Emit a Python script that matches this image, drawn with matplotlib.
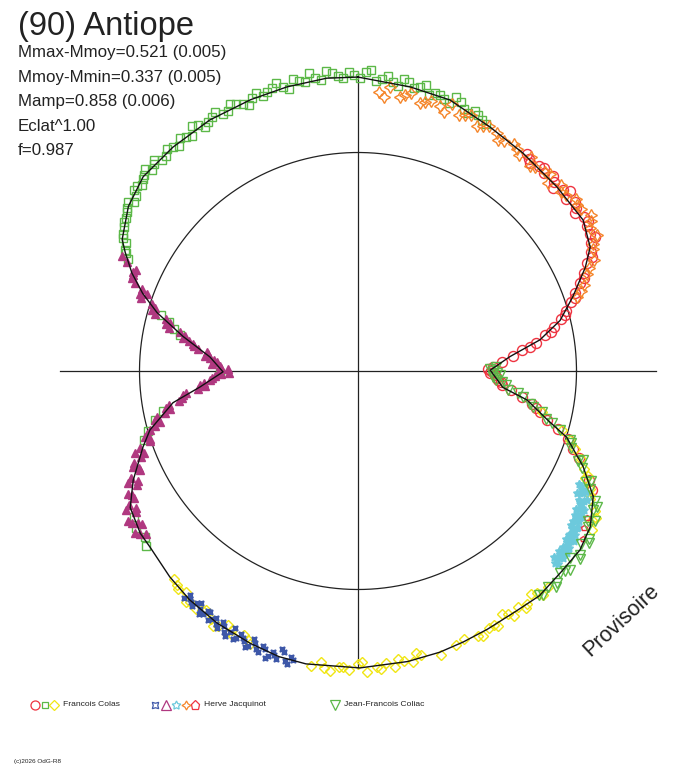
import numpy as np
import matplotlib
matplotlib.use("Agg")
import matplotlib.pyplot as plt

# courbe de lumiere (90) Antiope, en coordonnees polaires : phase -> magnitude relative
fit_phase = [0.000, 0.029, 0.052, 0.079, 0.103, 0.131, 0.156, 0.172, 0.182, 0.197,
             0.211, 0.223, 0.235, 0.249, 0.268, 0.277, 0.290, 0.299, 0.314, 0.328,
             0.344, 0.358, 0.373, 0.392, 0.408, 0.426, 0.441, 0.455, 0.473, 0.499,
             0.528, 0.543, 0.560, 0.581, 0.601, 0.618, 0.638, 0.648, 0.664, 0.678,
             0.696, 0.706, 0.723, 0.734, 0.749, 0.765, 0.781, 0.795, 0.805, 0.815,
             0.825, 0.831, 0.849, 0.867, 0.890, 0.915, 0.940, 0.961, 0.983]
fit_mag = [-0.322, -0.303, -0.293, -0.259, -0.243, -0.234, -0.234, -0.202, -0.145, -0.043,
           0.052, 0.183, 0.390, 0.545, 0.439, 0.263, 0.122, -0.003, -0.123, -0.216,
           -0.268, -0.289, -0.291, -0.303, -0.298, -0.303, -0.310, -0.318, -0.325, -0.333,
           -0.335, -0.331, -0.318, -0.303, -0.285, -0.265, -0.240, -0.236, -0.212, -0.146,
           -0.046, 0.011, 0.165, 0.347, 0.523, 0.418, 0.221, 0.047, -0.050, -0.130,
           -0.194, -0.230, -0.279, -0.306, -0.309, -0.313, -0.314, -0.318, -0.324]

# Francois Colas
colas_o_phase = [0.105, 0.110, 0.115, 0.120, 0.125, 0.130, 0.135, 0.140, 0.145, 0.150,
                 0.155, 0.160, 0.165, 0.170, 0.175, 0.180, 0.185, 0.190, 0.195, 0.200,
                 0.205, 0.210, 0.215, 0.220, 0.225, 0.230, 0.240, 0.245, 0.250, 0.255,
                 0.260, 0.265, 0.270, 0.280, 0.285, 0.290, 0.295, 0.300, 0.305, 0.310,
                 0.320, 0.325,
                 0.108, 0.118, 0.128, 0.138, 0.148, 0.158, 0.168, 0.178, 0.188, 0.198,
                 0.208, 0.218, 0.228, 0.235, 0.248, 0.252, 0.258, 0.262, 0.275, 0.283]
colas_o_mag = [-0.25, -0.23, -0.245, -0.235, -0.25, -0.22, -0.245, -0.23, -0.25, -0.225,
               -0.245, -0.235, -0.23, -0.215, -0.195, -0.16, -0.13, -0.095, -0.06, -0.025,
               0.01, 0.045, 0.09, 0.15, 0.21, 0.30, 0.45, 0.52, 0.54, 0.51,
               0.48, 0.45, 0.38, 0.23, 0.17, 0.12, 0.05, -0.01, -0.05, -0.09,
               -0.17, -0.20,
               -0.24, -0.25, -0.24, -0.26, -0.24, -0.25, -0.24, -0.19, -0.12, -0.05,
               0.02, 0.11, 0.25, 0.37, 0.56, 0.55, 0.49, 0.46, 0.30, 0.20]

colas_s_phase = [0.822, 0.826, 0.830, 0.834, 0.838, 0.843, 0.848, 0.853, 0.858, 0.863,
                 0.868, 0.873, 0.878, 0.884, 0.890, 0.896, 0.902, 0.908, 0.914, 0.920,
                 0.926, 0.932, 0.938, 0.944, 0.950, 0.956, 0.962, 0.968, 0.974, 0.980,
                 0.986, 0.992, 0.998, 0.004, 0.010, 0.016, 0.022, 0.028, 0.034, 0.040,
                 0.046, 0.052, 0.058, 0.064, 0.070, 0.076,
                 0.825, 0.832, 0.840, 0.846, 0.851, 0.856, 0.861, 0.866, 0.871, 0.876,
                 0.881, 0.887, 0.893, 0.899, 0.905, 0.911, 0.917, 0.923, 0.929, 0.935,
                 0.941, 0.947, 0.953, 0.959, 0.965, 0.971, 0.977, 0.983, 0.989, 0.995,
                 0.001, 0.007, 0.013, 0.019, 0.025, 0.031, 0.037, 0.043, 0.049, 0.055,
                 0.061, 0.067, 0.073,
                 0.640, 0.645, 0.652, 0.658, 0.700, 0.706, 0.712, 0.718,
                 0.748, 0.782, 0.786, 0.790, 0.794]
colas_s_mag = [-0.17, -0.20, -0.21, -0.24, -0.25, -0.26, -0.28, -0.27, -0.30, -0.29,
               -0.31, -0.30, -0.32, -0.30, -0.31, -0.32, -0.30, -0.32, -0.31, -0.33,
               -0.31, -0.32, -0.30, -0.33, -0.32, -0.34, -0.31, -0.33, -0.35, -0.32,
               -0.34, -0.32, -0.33, -0.34, -0.31, -0.33, -0.30, -0.32, -0.31, -0.29,
               -0.30, -0.28, -0.30, -0.27, -0.28, -0.26,
               -0.19, -0.23, -0.26, -0.27, -0.29, -0.28, -0.30, -0.30, -0.32, -0.31,
               -0.30, -0.32, -0.30, -0.31, -0.33, -0.30, -0.32, -0.31, -0.33, -0.31,
               -0.32, -0.31, -0.33, -0.32, -0.34, -0.32, -0.33, -0.35, -0.33, -0.34,
               -0.32, -0.35, -0.32, -0.31, -0.33, -0.30, -0.32, -0.30, -0.29, -0.31,
               -0.28, -0.29, -0.27,
               -0.25, -0.23, -0.24, -0.22, -0.03, 0.00, 0.05, 0.10,
               0.50, 0.20, 0.16, 0.12, 0.07]

colas_d_phase = [0.285, 0.295, 0.305, 0.310, 0.315, 0.320, 0.325, 0.330, 0.335, 0.340,
                 0.345, 0.385, 0.390, 0.395, 0.400, 0.405, 0.410, 0.415, 0.420, 0.425,
                 0.430, 0.440, 0.445, 0.455, 0.465, 0.470, 0.475, 0.480, 0.485, 0.490,
                 0.495, 0.500, 0.505, 0.510, 0.515, 0.520, 0.525, 0.560, 0.565, 0.570,
                 0.575, 0.580, 0.585, 0.590, 0.595, 0.600, 0.605, 0.610, 0.615,
                 0.468, 0.478, 0.488, 0.498, 0.508, 0.518, 0.392, 0.402, 0.412, 0.422,
                 0.432, 0.562, 0.572, 0.582, 0.592, 0.602, 0.612, 0.300, 0.318, 0.328,
                 0.338]
colas_d_mag = [0.16, 0.03, -0.06, -0.10, -0.13, -0.15, -0.19, -0.21, -0.25, -0.26,
               -0.28, -0.30, -0.31, -0.28, -0.30, -0.29, -0.31, -0.28, -0.31, -0.30,
               -0.32, -0.30, -0.31, -0.33, -0.31, -0.33, -0.32, -0.34, -0.32, -0.33,
               -0.35, -0.32, -0.34, -0.33, -0.35, -0.32, -0.34, -0.32, -0.30, -0.32,
               -0.29, -0.31, -0.30, -0.28, -0.30, -0.29, -0.27, -0.28, -0.26,
               -0.30, -0.31, -0.34, -0.31, -0.33, -0.34, -0.29, -0.31, -0.29, -0.30,
               -0.31, -0.31, -0.30, -0.32, -0.29, -0.30, -0.27, -0.02, -0.16, -0.20,
               -0.27]

# Herve Jacquinot
jacq_x_phase = [0.535, 0.538, 0.541, 0.544, 0.547, 0.550, 0.553, 0.556, 0.559, 0.562,
                0.565, 0.568, 0.571, 0.574, 0.577, 0.580, 0.583, 0.586, 0.589, 0.592,
                0.595, 0.598, 0.601, 0.604,
                0.5365, 0.5395, 0.5425, 0.5455, 0.5485, 0.5515, 0.5545, 0.5575, 0.5605,
                0.5635, 0.5665, 0.5695, 0.5725, 0.5755, 0.5785, 0.5815, 0.5845, 0.5875,
                0.5905, 0.5935, 0.5965, 0.5995, 0.6025]
jacq_x_mag = [-0.33, -0.35, -0.31, -0.34, -0.32, -0.35, -0.31, -0.33, -0.30, -0.34,
              -0.31, -0.32, -0.29, -0.33, -0.30, -0.32, -0.29, -0.31, -0.28, -0.31,
              -0.27, -0.30, -0.28, -0.29,
              -0.32, -0.34, -0.30, -0.33, -0.34, -0.32, -0.34, -0.31, -0.33,
              -0.32, -0.30, -0.33, -0.31, -0.32, -0.29, -0.31, -0.30, -0.28,
              -0.30, -0.29, -0.28, -0.29, -0.27]

jacq_t_phase = [0.646, 0.650, 0.654, 0.658, 0.662, 0.666, 0.670, 0.674, 0.678, 0.682,
                0.686, 0.690, 0.694, 0.698, 0.702, 0.706, 0.710, 0.714, 0.718, 0.722,
                0.726, 0.730, 0.734, 0.738, 0.742, 0.746, 0.748, 0.750, 0.752, 0.754,
                0.758, 0.762, 0.766, 0.770, 0.774, 0.778, 0.782, 0.786, 0.790, 0.794,
                0.798, 0.802, 0.806, 0.810, 0.814, 0.818, 0.822,
                0.648, 0.652, 0.656, 0.660, 0.664, 0.668, 0.672, 0.676, 0.680, 0.684,
                0.688, 0.692, 0.696, 0.700, 0.704, 0.708, 0.712, 0.716, 0.720, 0.724,
                0.728, 0.732, 0.736, 0.740, 0.744, 0.756, 0.760, 0.764, 0.768, 0.772,
                0.776, 0.780, 0.784, 0.788, 0.792, 0.796, 0.800, 0.804, 0.808, 0.812,
                0.816, 0.820]
jacq_t_mag = [-0.22, -0.25, -0.22, -0.25, -0.19, -0.21, -0.18, -0.14, -0.17, -0.10,
              -0.12, -0.07, -0.09, -0.005, -0.02, 0.01, 0.07, 0.06, 0.14, 0.14,
              0.22, 0.25, 0.38, 0.38, 0.44, 0.51, 0.57, 0.49, 0.56, 0.51,
              0.44, 0.45, 0.38, 0.39, 0.30, 0.26, 0.23, 0.13, 0.13, 0.04,
              0.03, -0.05, -0.03, -0.10, -0.12, -0.12, -0.20,
              -0.24, -0.21, -0.24, -0.20, -0.23, -0.18, -0.19, -0.13, -0.15, -0.10,
              -0.11, -0.05, -0.06, 0.00, -0.01, 0.04, 0.05, 0.11, 0.12, 0.20,
              0.23, 0.33, 0.35, 0.42, 0.46, 0.50, 0.47, 0.42, 0.40, 0.33,
              0.29, 0.22, 0.20, 0.11, 0.10, 0.02, 0.01, -0.06, -0.06, -0.12,
              -0.13, -0.17]

jacq_c_phase = [0.325, 0.327, 0.329, 0.331, 0.333, 0.335, 0.337, 0.339, 0.341, 0.343,
                0.345, 0.347, 0.349, 0.351, 0.353, 0.355, 0.357, 0.359, 0.361, 0.363,
                0.365, 0.367, 0.369, 0.371, 0.373,
                0.326, 0.328, 0.330, 0.332, 0.334, 0.336, 0.338, 0.340, 0.342, 0.344,
                0.346, 0.348, 0.350, 0.352, 0.354, 0.356, 0.358, 0.360, 0.362, 0.364,
                0.366, 0.368, 0.370, 0.372]
jacq_c_mag = [-0.14, -0.16, -0.17, -0.15, -0.19, -0.18, -0.20, -0.19, -0.21, -0.19,
              -0.22, -0.20, -0.23, -0.21, -0.24, -0.22, -0.24, -0.23, -0.25, -0.23,
              -0.25, -0.24, -0.25, -0.23, -0.25,
              -0.15, -0.18, -0.16, -0.20, -0.17, -0.19, -0.21, -0.18, -0.22, -0.20,
              -0.21, -0.23, -0.20, -0.23, -0.22, -0.25, -0.22, -0.24, -0.24, -0.26,
              -0.23, -0.26, -0.24, -0.26]

jacq_a_phase = [0.012, 0.018, 0.024, 0.030, 0.036, 0.042, 0.048, 0.054, 0.060, 0.066,
                0.072, 0.078, 0.084, 0.090, 0.096, 0.102, 0.108, 0.114, 0.120, 0.126,
                0.132, 0.138, 0.144, 0.150, 0.156, 0.162, 0.168, 0.174, 0.180, 0.186,
                0.192, 0.198,
                0.015, 0.027, 0.039, 0.051, 0.063, 0.075, 0.087, 0.099, 0.111, 0.123,
                0.135, 0.147, 0.159, 0.171, 0.183, 0.195]
jacq_a_mag = [-0.27, -0.29, -0.26, -0.28, -0.25, -0.27, -0.26, -0.28, -0.25, -0.27,
              -0.24, -0.26, -0.25, -0.24, -0.25, -0.23, -0.25, -0.23, -0.24, -0.22,
              -0.25, -0.24, -0.26, -0.25, -0.27, -0.24, -0.25, -0.21, -0.19, -0.14,
              -0.11, -0.06,
              -0.25, -0.27, -0.26, -0.24, -0.26, -0.25, -0.23, -0.24, -0.22, -0.25,
              -0.23, -0.25, -0.26, -0.22, -0.16, -0.09]

jacq_p_phase = [0.341, 0.347, 0.352]
jacq_p_mag = [-0.24, -0.25, -0.27]

# Jean-Francois Coliac
coliac_phase = [0.245, 0.250, 0.255, 0.260, 0.265, 0.270, 0.275, 0.280, 0.285, 0.290,
                0.295, 0.300, 0.305, 0.310, 0.315, 0.320, 0.325, 0.330, 0.335, 0.340,
                0.345, 0.350, 0.355, 0.360, 0.365, 0.370, 0.375, 0.380, 0.385, 0.390,
                0.247, 0.252, 0.257, 0.262, 0.272, 0.282, 0.292, 0.302, 0.312, 0.322,
                0.332, 0.342, 0.352, 0.362, 0.372, 0.382, 0.392]
coliac_mag = [0.50, 0.52, 0.47, 0.50, 0.42, 0.40, 0.29, 0.24, 0.16, 0.13,
              0.04, -0.02, -0.04, -0.11, -0.12, -0.18, -0.19, -0.23, -0.24, -0.27,
              -0.26, -0.29, -0.28, -0.30, -0.28, -0.31, -0.29, -0.31, -0.30, -0.31,
              0.55, 0.49, 0.52, 0.45, 0.33, 0.22, 0.09, -0.03, -0.09, -0.16,
              -0.25, -0.25, -0.30, -0.31, -0.30, -0.32, -0.30]

stats = ["Mmax-Mmoy=0.521 (0.005)", "Mmoy-Mmin=0.337 (0.005)",
         "Mamp=0.858 (0.006)", "Eclat^1.00", "f=0.987"]

plt.rcParams['font.family'] = ['Liberation Sans', 'DejaVu Sans']

cx, cy, R = 358, 371, 218.5


def to_xy(phase, mag):
    ph = np.asarray(phase)
    r = R * 10 ** (-0.4 * np.asarray(mag))
    return cx + r * np.sin(2 * np.pi * ph), cy - r * np.cos(2 * np.pi * ph)


fig = plt.figure(figsize=(6.88, 7.68), dpi=100)
ax = fig.add_axes([0, 0, 1, 1])
ax.set_xlim(0, 688)
ax.set_ylim(768, 0)
ax.axis("off")

# cercle moyen et axes
t = np.linspace(0, 2 * np.pi, 400)
ax.plot(cx + R * np.cos(t), cy + R * np.sin(t), c="#222222", lw=0.9)
ax.plot([60, 656], [cy, cy], c="#222222", lw=0.9)
ax.plot([cx, cx], [73, 668], c="#222222", lw=0.9)

# (phase, mag, marqueur, couleur, taille, rempli)
series = [
    (colas_o_phase, colas_o_mag, "o", "#ee3340", 7.2, False),
    (colas_s_phase, colas_s_mag, "s", "#5cb848", 5.8, False),
    (colas_d_phase, colas_d_mag, "D", "#f0e614", 5.2, False),
    (jacq_x_phase, jacq_x_mag, (4, 1, 45), "#3d57a8", 5.0, True),
    (jacq_t_phase, jacq_t_mag, "^", "#b03880", 5.5, True),
    (jacq_c_phase, jacq_c_mag, (5, 1, 0), "#6cc9dc", 6.0, True),
    (jacq_a_phase, jacq_a_mag, (4, 1, 0), "#f5862b", 8.6, False),
    (jacq_p_phase, jacq_p_mag, "p", "#ee3340", 4.0, False),
    (coliac_phase, coliac_mag, "v", "#5cb848", 6.8, False),
]
for ph, mg, mk, col, ms, filled in series:
    x, y = to_xy(ph, mg)
    ax.plot(x, y, ls="none", marker=mk, mfc=col if filled else "none", mec=col,
            ms=ms, mew=1.0)

fx, fy = to_xy(fit_phase + [fit_phase[0]], fit_mag + [fit_mag[0]])
ax.plot(fx, fy, c="#111111", lw=1.0, zorder=5)

# textes
ax.text(18, 35, "(90) Antiope", fontsize=23.5, color="#222222", va="baseline")
for i, s in enumerate(stats):
    ax.text(18, 57 + 24.6 * i, s, fontsize=12.2, color="#222222", va="baseline")

ax.text(621, 620, "Provisoire", fontsize=15.5, color="#222222", rotation=43,
        ha="center", va="center")

# legende
leg_y = 705
for lx, mk, col in [(35, "o", "#ee3340"), (45, "s", "#5cb848"), (54, "D", "#f0e614"),
                    (155, (4, 1, 45), "#3d57a8"), (166, "^", "#b03880"),
                    (176, (5, 1, 0), "#6cc9dc"), (186, (4, 1, 0), "#f5862b"),
                    (195, "p", "#ee3340"), (335, "v", "#5cb848")]:
    ms = 5.0 if mk in ("s", "D") else 6.5
    ax.plot(lx, leg_y, marker=mk, mfc="none", mec=col, ms=ms, mew=0.9)
for lx, s in [(63, "Francois Colas"), (204, "Herve Jacquinot"),
              (344, "Jean-Francois Coliac")]:
    ax.text(lx, leg_y, s, fontsize=6.1, color="#222222", va="center")

ax.text(14, 762, "(c)2026 OdG-R8", fontsize=4.6, color="#222222", va="center")

fig.savefig("out.png", dpi=100)
